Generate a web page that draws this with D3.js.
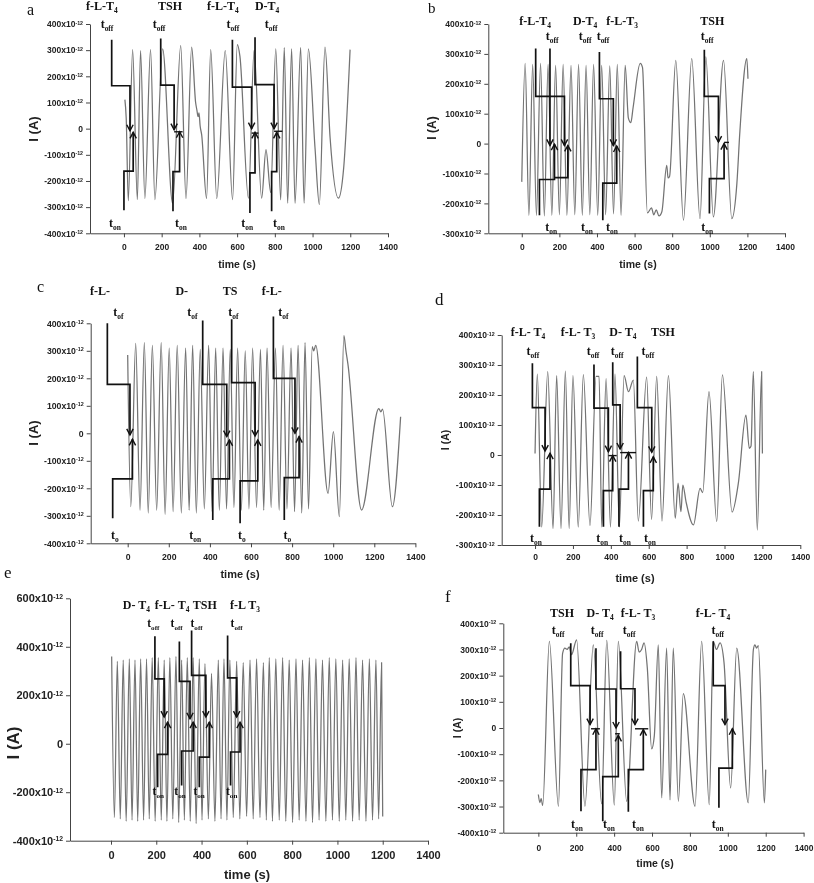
<!DOCTYPE html>
<html><head><meta charset="utf-8">
<script src="https://cdn.jsdelivr.net/npm/d3@7"></script>
<style>html,body{margin:0;padding:0;background:#fff;} svg{display:block;opacity:0.999;will-change:transform;} text{-webkit-font-smoothing:antialiased;}</style>
</head><body>
<svg id="chart" width="814" height="883"></svg>
<script>
// ---------------- DATA (time in s, current in 10^-12 A) ----------------
const xTickValues = [0, 200, 400, 600, 800, 1000, 1200, 1400];

// Panel a
const aWave = [[5,111],[12,40],[23,-275],[46,302],[71,-271],[88,298],[111,-267],[141,302],[164,-271],[205,305],[258,-285],[301,317],[329,-267],[359,312],[380,100],[387,70],[393,46],[398,60],[404,10],[412,-23],[438,-267],[460,302],[492,-267],[537,298],[576,-271],[601,321],[615,276],[660,-266],[690,299],[730,-266],[753,-80],[778,-244],[805,305],[831,-272],[850,310],[868,-285],[889,305],[907,-285],[937,310],[955,-285],[978,305],[1013,-73],[1036,-290],[1066,312],[1093,-35],[1137,-266],[1165,-150],[1199,302]];
const aSteps = [[[-65,340],[-65,164],[32,164],[32,-8]],[[0,-312],[0,-162],[49,-162],[49,-14]],[[195,345],[195,166],[266,166],[266,-4]],[[260,-316],[260,-164],[295,-164],[295,-12]],[[575,340],[575,159],[677,159],[677,0]],[[668,-322],[668,-169],[695,-169],[695,-14]],[[695,349],[695,168],[796,168],[796,0]],[[783,-316],[783,-164],[810,-164],[810,-14]]];
const aBars = [[[266,-12],[311,-12]],[[677,-17],[713,-17]],[[796,-10],[840,-10]]];
const aLabels = ["f-L-T","TSH","f-L-T","D-T"];
const aLabelSubs = ["4","","4","4"];
const aLabelT = [-117,244,525,759];
const aOffT = [-90,186,578,780];
const aOnT = [-48,302,653,822];
const aYTicks = [-400,-300,-200,-100,0,100,200,300,400];

// Panel b
const bWave = [[0,-128],[18,268],[38,-240],[58,265],[78,-240],[100,268],[120,-242],[140,265],[160,-240],[180,262],[200,-238],[220,265],[240,-240],[262,262],[282,-238],[302,265],[322,-240],[342,262],[362,-238],[382,265],[404,-240],[425,262],[446,-238],[468,260],[488,-235],[508,265],[528,-240],[550,262],[567,85],[580,70],[592,120],[630,268],[642,255],[668,-232],[690,-215],[702,-238],[715,-222],[730,-242],[745,-228],[771,-73],[778,-115],[786,-110],[819,278],[860,-256],[904,284],[948,-251],[979,290],[1019,-245],[1073,278],[1117,-251],[1144,-134],[1160,40],[1197,284],[1203,217]];
const bSteps = [[[74,318],[74,158],[227,158],[227,-6]],[[150,318],[150,-6]],[[94,-240],[94,-120],[174,-120],[174,-2]],[[174,-114],[245,-114],[245,-6]],[[413,306],[413,150],[487,150],[487,-6]],[[431,-256],[431,-132],[505,-132],[505,-8]],[[971,314],[971,158],[1046,158],[1046,5]],[[998,-234],[998,-117],[1076,-117],[1076,0]]];
const bBars = [[[1076,4],[1102,4]]];
const bLabels = ["f-L-T","D-T","f-L-T","TSH"];
const bLabelSubs = ["4","4","3",""];
const bLabelT = [71,337,534,1013];
const bOffT = [161,337,432,986];
const bOnT = [156,347,480,986];
const bYTicks = [-300,-200,-100,0,100,200,300,400];

// Panel c
const cWave = [[0,285],[15,-267],[39,327],[60,-280],[81,330],[100,-290],[120,320],[141,-280],[163,330],[182,-295],[202,310],[221,-285],[241,320],[261,-290],[282,310],[299,-280],[316,320],[334,-290],[353,305],[373,-275],[394,320],[411,-285],[428,310],[446,-280],[464,310],[481,-275],[499,305],[517,-270],[535,310],[553,-280],[572,300],[590,-275],[608,310],[627,-270],[646,305],[662,-280],[678,310],[698,-270],[719,310],[737,-280],[756,320],[775,-275],[795,310],[812,-285],[829,320],[847,-290],[863,330],[880,-275],[898,315],[905,300],[915,320],[975,-218],[1001,6],[1030,-303],[1052,355],[1062,300],[1072,250],[1138,-279],[1222,90],[1232,78],[1240,88],[1288,-267],[1328,60]];
const cSteps = [[[-99,400],[-99,178],[11,178],[11,-6]],[[-73,-309],[-73,-166],[23,-166],[23,-22]],[[365,410],[365,178],[482,178],[482,-12]],[[414,-315],[414,-166],[495,-166],[495,-24]],[[506,415],[506,184],[620,184],[620,-10]],[[547,-327],[547,-173],[633,-173],[633,-24]],[[709,425],[709,200],[814,200],[814,0]],[[762,-315],[762,-161],[834,-161],[834,-12]]];
const cBars = [];
const cLabels = ["f-L-","D-","TS","f-L-"];
const cLabelSubs = ["","","",""];
const cLabelT = [-135,263,498,701];
const cOffT = [-45,315,514,757];
const cOffSubs = ["of","of","of","of"];
const cOnT = [-62,328,555,777];
const cOnSubs = ["o","on","o","o"];
const cYTicks = [-400,-300,-200,-100,0,100,200,300,400];

// Panel d
const dWave = [[0,5],[12,270],[35,-240],[67,278],[95,-245],[114,265],[137,-245],[160,280],[180,-245],[200,265],[228,-240],[255,268],[290,-235],[322,262],[338,262],[352,-240],[375,255],[398,-240],[422,270],[445,-240],[470,265],[493,211],[519,250],[545,-220],[589,260],[615,-215],[642,262],[670,-220],[704,265],[740,-211],[755,-94],[770,-189],[780,-100],[797,-156],[836,-233],[871,-111],[885,-125],[918,211],[959,-222],[989,267],[1040,-190],[1073,-94],[1113,133],[1131,22],[1140,30],[1152,278],[1173,-250],[1196,278],[1200,5]];
const dSteps = [[[-14,306],[-14,158],[53,158],[53,13]],[[23,-239],[23,-114],[79,-114],[79,6]],[[311,302],[311,156],[387,156],[387,11]],[[361,-239],[361,-119],[410,-119],[410,-2]],[[410,309],[410,167],[449,167],[449,20]],[[443,-239],[443,-114],[493,-114],[493,8]],[[540,328],[540,158],[616,158],[616,9]],[[572,-239],[572,-119],[624,-119],[624,-6]]];
const dBars = [[[387,-2],[431,-2]],[[449,8],[533,8]]];
const dLabels = ["f-L- T","f-L- T","D- T","TSH"];
const dLabelSubs = ["4","3","4",""];
const dLabelT = [-37,227,464,675];
const dOffT = [-11,306,433,596];
const dOnT = [5,354,475,607];
const dYTicks = [-300,-200,-100,0,100,200,300,400];

// Panel e
const eWave = [[3,360],[15,-305],[28,340],[41,-310],[54,345],[67,-320],[81,350],[93,-315],[106,345],[118,-320],[131,350],[144,-315],[157,350],[169,-310],[182,355],[195,-320],[209,355],[222,-315],[235,345],[247,-320],[260,355],[273,-310],[287,360],[299,-325],[312,345],[324,-315],[337,355],[350,-320],[363,355],[376,-330],[390,350],[402,-315],[415,330],[430,-310],[444,290],[459,-320],[474,345],[486,-310],[499,350],[512,-315],[525,345],[540,-305],[555,340],[569,-310],[584,335],[599,-300],[614,345],[628,-310],[643,350],[658,-305],[673,335],[686,-315],[699,355],[713,-320],[728,350],[743,-315],[758,355],[772,-320],[787,345],[802,-325],[817,350],[831,-315],[846,345],[861,-320],[876,355],[890,-325],[905,350],[919,-315],[934,345],[949,-320],[964,355],[978,-315],[993,350],[1008,-320],[1023,345],[1037,-315],[1052,350],[1067,-320],[1082,355],[1096,-315],[1111,345],[1126,-320],[1141,350],[1155,-315],[1170,345],[1182,-310],[1195,335],[1200,-300]];
const eSteps = [[[194,443],[194,268],[235,268],[235,110]],[[206,-179],[206,-44],[250,-44],[250,89]],[[302,422],[302,257],[349,257],[349,103]],[[312,-172],[312,-30],[363,-30],[363,89]],[[356,467],[356,282],[419,282],[419,110]],[[390,-179],[390,-55],[434,-55],[434,89]],[[515,447],[515,272],[555,272],[555,110]],[[528,-172],[528,-34],[570,-34],[570,89]]];
const eBars = [];
const eLabels = ["D- T","f-L- T","TSH","f-L T"];
const eLabelSubs = ["4","4","","3"];
const eLabelT = [112,270,414,592];
const eOffT = [187,290,378,555];
const eOnT = [209,305,389,533];
const eYTicks = [-400,-200,0,200,400,600];

// Panel f
const fWave = [[0,-254],[8,-285],[15,-270],[23,-296],[58,331],[106,-299],[128,285],[140,305],[152,300],[163,310],[175,280],[202,337],[246,-299],[290,318],[334,-290],[361,335],[401,-295],[422,331],[466,-280],[519,331],[532,290],[545,300],[558,325],[575,230],[598,-80],[612,-30],[633,318],[651,-267],[677,305],[695,-275],[712,305],[739,-280],[765,131],[827,-299],[862,331],[902,-293],[923,331],[940,300],[959,325],[980,250],[1015,-229],[1047,305],[1108,-286],[1135,300],[1143,318],[1152,305],[1161,315],[1193,-286],[1200,-159]];
const fSteps = [[[171,324],[171,162],[273,162],[273,13]],[[225,-318],[225,-159],[304,-159],[304,-3]],[[304,305],[304,149],[410,149],[410,0]],[[340,-356],[340,-186],[422,-186],[422,-28]],[[434,293],[434,150],[510,150],[510,13]],[[475,-320],[475,-159],[554,-159],[554,-6]],[[923,331],[923,162],[985,162],[985,13]],[[953,-305],[953,-153],[1024,-153],[1024,-3]]];
const fBars = [[[278,-3],[325,-3]],[[405,-22],[430,-22]],[[510,-3],[580,-3]]];
const fLabels = ["TSH","D- T","f-L- T","f-L- T"];
const fLabelSubs = ["","4","3","4"];
const fLabelT = [125,326,526,922];
const fOffT = [104,310,479,947];
const fOnT = [204,373,526,947];
const fYTicks = [-400,-300,-200,-100,0,100,200,300,400];

// ---------------- LAYOUT ----------------
const SANS = "'Liberation Sans', Arial, sans-serif";
const SERIF = "'Liberation Serif', 'Times New Roman', serif";
const offSubs4 = ["off","off","off","off"], onSubs4 = ["on","on","on","on"];

const panels = [
  {letter:"a", lx:27, ly:15, lsz:16, xDom:[-180,1400], xRange:[90,388], yDom:[-400,400], yRange:[233.3,24], yTicks:aYTicks,
   wave:aWave, steps:aSteps, bars:aBars, labels:aLabels, labelSubs:aLabelSubs, labelT:aLabelT, offT:aOffT, offSubs:offSubs4, onT:aOnT, onSubs:onSubs4,
   labY:10, offY:28, onY:227, labSz:12, offSz:12, tick:8.5, xPad:6.7, title:10.5, titleX:237, titleY:268, ylab:13, ylabX:33, ylabY:129},
  {letter:"b", lx:428, ly:13, lsz:15, xDom:[-178,1400], xRange:[488.3,785], yDom:[-300,400], yRange:[233.3,24], yTicks:bYTicks,
   wave:bWave, steps:bSteps, bars:bBars, labels:bLabels, labelSubs:bLabelSubs, labelT:bLabelT, offT:bOffT, offSubs:offSubs4, onT:bOnT, onSubs:onSubs4,
   labY:25, offY:40, onY:231, labSz:12, offSz:12, tick:8.5, xPad:6.7, title:10.5, titleX:638, titleY:268, ylab:12, ylabX:432, ylabY:128},
  {letter:"c", lx:37, ly:292, lsz:16, xDom:[-180,1400], xRange:[90.7,415.4], yDom:[-400,400], yRange:[543.3,323.3], yTicks:cYTicks,
   wave:cWave, steps:cSteps, bars:cBars, labels:cLabels, labelSubs:cLabelSubs, labelT:cLabelT, offT:cOffT, offSubs:cOffSubs, onT:cOnT, onSubs:cOnSubs,
   labY:295, offY:316, onY:539, labSz:12, offSz:12, tick:8.7, xPad:6.4, title:11, titleX:240, titleY:578, ylab:13, ylabX:33, ylabY:433},
  {letter:"d", lx:435, ly:305, lsz:17, xDom:[-176,1400], xRange:[501.7,800.3], yDom:[-300,400], yRange:[545,335], yTicks:dYTicks,
   wave:dWave, steps:dSteps, bars:dBars, labels:dLabels, labelSubs:dLabelSubs, labelT:dLabelT, offT:dOffT, offSubs:offSubs4, onT:dOnT, onSubs:onSubs4,
   labY:336, offY:355, onY:542, labSz:12, offSz:12, tick:8.5, xPad:4.5, title:11, titleX:635, titleY:582, ylab:10.5, ylabX:445, ylabY:440},
  {letter:"e", lx:4, ly:578, lsz:17, xDom:[-181,1400], xRange:[70,428], yDom:[-400,600], yRange:[840.7,598.3], yTicks:eYTicks,
   wave:eWave, steps:eSteps, bars:eBars, labels:eLabels, labelSubs:eLabelSubs, labelT:eLabelT, offT:eOffT, offSubs:offSubs4, onT:eOnT, onSubs:onSubs4,
   labY:609, offY:627, onY:795, labSz:12, offSz:11.5, tick:11, xPad:6.5, title:13, titleX:247, titleY:879, ylab:17, ylabX:13, ylabY:743},
  {letter:"f", lx:445, ly:602, lsz:17, xDom:[-185,1400], xRange:[503.3,803.6], yDom:[-400,400], yRange:[832.7,623.3], yTicks:fYTicks,
   wave:fWave, steps:fSteps, bars:fBars, labels:fLabels, labelSubs:fLabelSubs, labelT:fLabelT, offT:fOffT, offSubs:offSubs4, onT:fOnT, onSubs:onSubs4,
   labY:617, offY:634, onY:828, labSz:12, offSz:12, tick:8.5, xPad:8.3, title:10.5, titleX:655, titleY:867, ylab:10.5, ylabX:457, ylabY:728}
];

const svg = d3.select("#chart");
svg.append("rect").attr("width",814).attr("height",883).attr("fill","#fff");

function richText(g, x, y, main, sub, size) {
  const t = g.append("text").attr("x", x).attr("y", y).attr("text-anchor","middle")
    .attr("font-family", SERIF).attr("font-weight","bold").attr("font-size", size).attr("fill","#111");
  t.append("tspan").text(main);
  if (sub) t.append("tspan").attr("dy", size*0.28).attr("font-size", size*0.62).text(sub);
}

function drawPanel(L) {
  const g = svg.append("g");
  const x = d3.scaleLinear().domain(L.xDom).range(L.xRange);
  const y = d3.scaleLinear().domain(L.yDom).range(L.yRange);

  const xa = g.append("g").attr("transform", `translate(0,${L.yRange[0]})`)
    .call(d3.axisBottom(x).tickValues(xTickValues).tickFormat(d3.format("d")).tickSize(4).tickSizeOuter(0).tickPadding(L.xPad));
  const ya = g.append("g").attr("transform", `translate(${L.xRange[0]},0)`)
    .call(d3.axisLeft(y).tickValues(L.yTicks).tickSize(4).tickSizeOuter(0).tickPadding(3));
  [xa, ya].forEach(a => {
    a.attr("font-family", SANS).attr("font-size", L.tick).attr("font-weight","bold");
    a.selectAll("path,line").attr("stroke","#444").attr("stroke-width",1);
    a.selectAll("text").attr("fill","#222");
  });
  ya.selectAll(".tick text").each(function(d) {
    const t = d3.select(this);
    t.text("");
    if (d === 0) { t.text("0"); return; }
    t.append("tspan").text(d + "x10");
    t.append("tspan").attr("dy","-0.5em").attr("font-size","0.62em").text("-12");
  });

  // waveform
  const line = d3.line().x(d => x(d[0])).y(d => y(d[1])).curve(d3.curveMonotoneX);
  g.append("path").datum(L.wave).attr("d", line).attr("fill","none")
    .attr("stroke","#737373").attr("stroke-width",1.25).attr("stroke-linejoin","round");

  // stimulus step lines with arrows
  const pl = d3.line().x(d => x(d[0])).y(d => y(d[1]));
  L.steps.forEach(s => {
    g.append("path").datum(s).attr("d", pl).attr("fill","none").attr("stroke","#111").attr("stroke-width",1.7);
    const p1 = s[s.length-1], p0 = s[s.length-2];
    const tx = x(p1[0]), ty = y(p1[1]);
    const dir = y(p1[1]) > y(p0[1]) ? -1 : 1; // -1: pointing down
    g.append("path").attr("d", `M${tx-3.2},${ty+dir*6} L${tx},${ty} L${tx+3.2},${ty+dir*6}`)
      .attr("fill","none").attr("stroke","#111").attr("stroke-width",1.4);
  });
  L.bars.forEach(s => {
    g.append("path").datum(s).attr("d", pl).attr("fill","none").attr("stroke","#111").attr("stroke-width",1.4);
  });

  // annotations
  L.labels.forEach((lab, i) => richText(g, x(L.labelT[i]), L.labY, lab, L.labelSubs[i], L.labSz));
  L.offT.forEach((t, i) => richText(g, x(t), L.offY, "t", L.offSubs[i], L.offSz));
  L.onT.forEach((t, i) => richText(g, x(t), L.onY, "t", L.onSubs[i], L.offSz));

  // axis titles
  g.append("text").attr("x", L.titleX).attr("y", L.titleY).attr("text-anchor","middle")
    .attr("font-family", SANS).attr("font-weight","bold").attr("font-size", L.title).attr("fill","#222").text("time (s)");
  g.append("text").attr("transform", `translate(${L.ylabX},${L.ylabY}) rotate(-90)`).attr("text-anchor","middle")
    .attr("dy","0.35em").attr("font-family", SANS).attr("font-weight","bold").attr("font-size", L.ylab).attr("fill","#222").text("I (A)");

  // panel letter
  g.append("text").attr("x", L.lx).attr("y", L.ly).attr("font-family", SERIF).attr("font-size", L.lsz)
    .attr("fill","#111").text(L.letter);
}

panels.forEach(drawPanel);
</script>
</body></html>
